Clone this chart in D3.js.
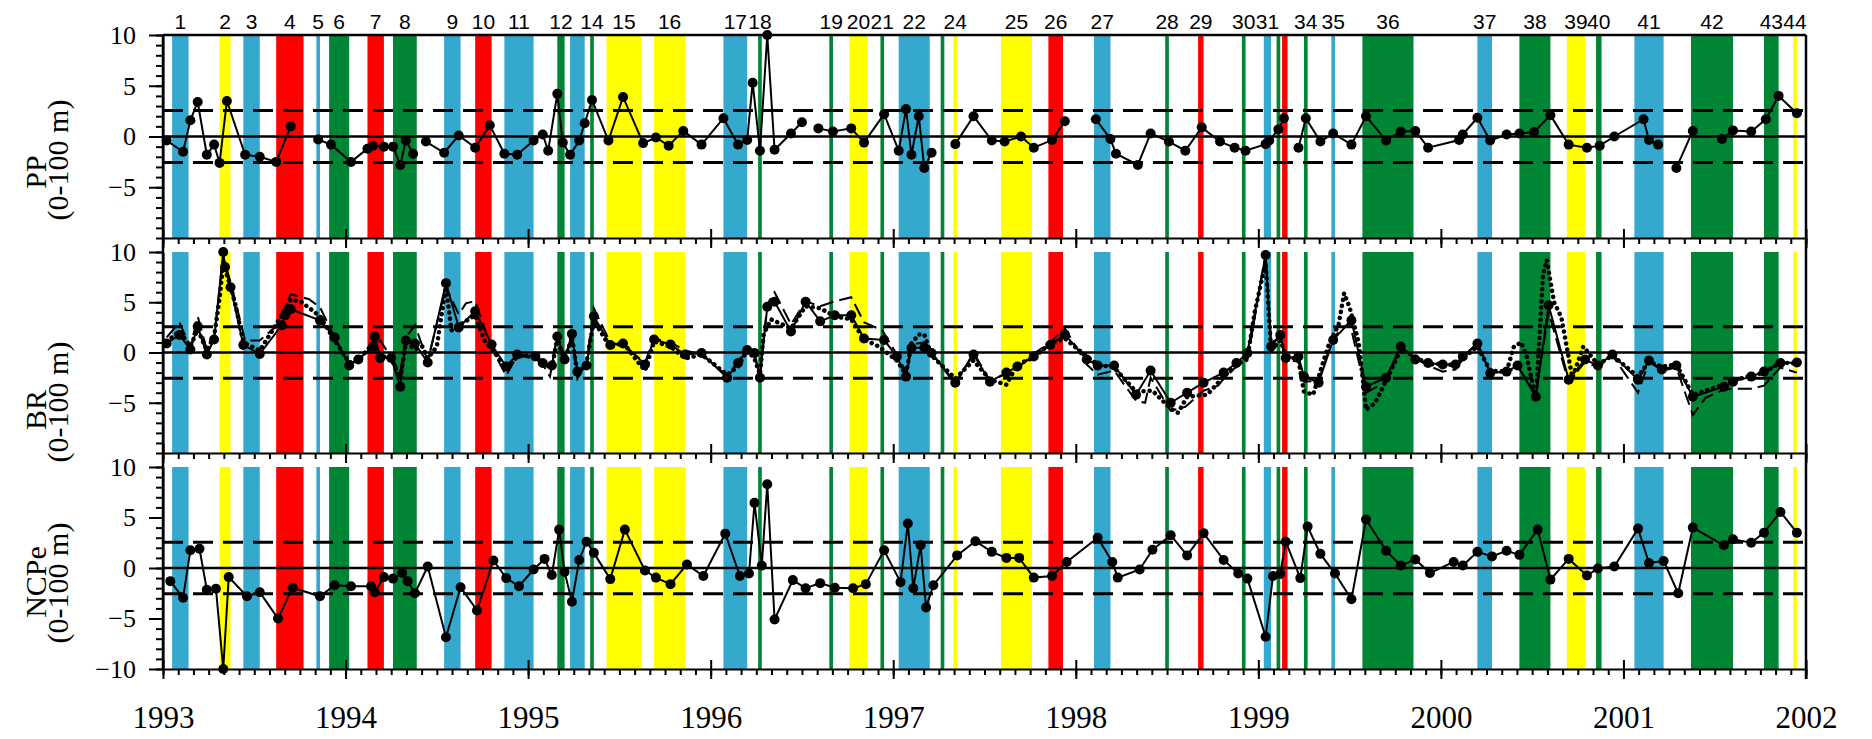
<!DOCTYPE html>
<html>
<head>
<meta charset="utf-8">
<script src="https://cdn.jsdelivr.net/npm/d3@7"></script>
<style>
  body { margin: 0; background: #fff; }
</style>
</head>
<body>
<svg id="chart" width="1872" height="739"></svg>
<script>
// event bands: [label, start, end, kind]
const bands = [
  ['1', 1993.05, 1993.14, 'blue'], ['2', 1993.31, 1993.37, 'yellow'], ['3', 1993.44, 1993.53, 'blue'],
  ['4', 1993.62, 1993.77, 'red'], ['5', 1993.84, 1993.86, 'blue'], ['6', 1993.91, 1994.02, 'green'],
  ['7', 1994.12, 1994.21, 'red'], ['8', 1994.26, 1994.39, 'green'], ['9', 1994.54, 1994.63, 'blue'],
  ['10', 1994.71, 1994.80, 'red'], ['11', 1994.87, 1995.03, 'blue'], ['12', 1995.16, 1995.20, 'green'],
  ['', 1995.23, 1995.31, 'blue'], ['14', 1995.34, 1995.36, 'green'], ['15', 1995.43, 1995.62, 'yellow'],
  ['16', 1995.69, 1995.86, 'yellow'], ['17', 1996.07, 1996.20, 'blue'], ['18', 1996.26, 1996.28, 'green'],
  ['19', 1996.65, 1996.67, 'green'], ['20', 1996.76, 1996.86, 'yellow'], ['21', 1996.93, 1996.95, 'green'],
  ['22', 1997.03, 1997.20, 'blue'], ['', 1997.26, 1997.28, 'green'], ['24', 1997.33, 1997.35, 'yellow'],
  ['25', 1997.59, 1997.76, 'yellow'], ['26', 1997.85, 1997.93, 'red'], ['27', 1998.10, 1998.19, 'blue'],
  ['28', 1998.49, 1998.51, 'green'], ['29', 1998.67, 1998.70, 'red'], ['30', 1998.91, 1998.93, 'green'],
  ['31', 1999.03, 1999.07, 'blue'], ['', 1999.10, 1999.12, 'green'], ['', 1999.13, 1999.16, 'red'],
  ['34', 1999.25, 1999.27, 'green'], ['35', 1999.40, 1999.42, 'blue'], ['36', 1999.57, 1999.85, 'green'],
  ['37', 2000.20, 2000.28, 'blue'], ['38', 2000.43, 2000.60, 'green'], ['39', 2000.69, 2000.79, 'yellow'],
  ['40', 2000.85, 2000.88, 'green'], ['41', 2001.06, 2001.22, 'blue'], ['42', 2001.37, 2001.60, 'green'],
  ['43', 2001.77, 2001.85, 'green'], ['44', 2001.93, 2001.95, 'yellow']
];
const bandColors = { blue: '#34a9cd', yellow: '#ffff00', red: '#ff0000', green: '#008535' };

const years = d3.range(1993, 2003);
const yTicks = [10, 5, 0, -5, -10];
const limit = 2.55;

// PP anomaly, [year, value]; null breaks the line
const ppSeries = [[1993.02,-0.4],[1993.11,-1.5],[1993.15,1.6],[1993.19,3.4],[1993.24,-1.8],[1993.28,-0.8],[1993.31,-2.6],[1993.35,3.5],[1993.45,-1.8],[1993.53,-2.0],[1993.62,-2.5],[1993.70,1.0],[1993.77,null],[1993.85,-0.3],[1993.92,-0.8],[1994.03,-2.5],[1994.12,-1.2],[1994.15,-0.9],[1994.21,-1.0],[1994.26,-1.0],[1994.30,-2.8],[1994.33,-0.4],[1994.37,-1.7],[1994.40,null],[1994.44,-0.5],[1994.54,-1.6],[1994.62,0.1],[1994.71,-1.1],[1994.79,1.1],[1994.87,-1.7],[1994.94,-1.8],[1995.03,-0.4],[1995.08,0.2],[1995.11,-1.4],[1995.16,4.2],[1995.19,-0.6],[1995.23,-1.8],[1995.28,-0.4],[1995.31,1.3],[1995.35,3.6],[1995.44,-0.4],[1995.52,3.9],[1995.63,-0.65],[1995.70,-0.1],[1995.77,-0.9],[1995.85,0.55],[1995.95,-0.8],[1996.07,1.8],[1996.15,-0.8],[1996.20,-0.35],[1996.23,5.3],[1996.27,-1.4],[1996.31,10.0],[1996.35,-1.3],[1996.44,0.3],[1996.50,1.4],[1996.55,null],[1996.59,0.8],[1996.67,0.5],[1996.77,0.8],[1996.84,-0.6],[1996.95,2.2],[1997.03,-1.4],[1997.07,2.7],[1997.10,-1.8],[1997.14,2.0],[1997.17,-3.1],[1997.21,-1.6],[1997.27,null],[1997.34,-0.75],[1997.44,2.0],[1997.54,-0.4],[1997.61,-0.5],[1997.70,0.0],[1997.77,-1.1],[1997.87,-0.35],[1997.94,1.5],[1998.02,null],[1998.11,1.7],[1998.19,-0.25],[1998.22,-1.7],[1998.34,-2.8],[1998.41,0.3],[1998.51,-0.5],[1998.60,-1.4],[1998.69,0.9],[1998.79,-0.5],[1998.87,-1.1],[1998.93,-1.4],[1999.04,-0.75],[1999.06,-0.4],[1999.11,0.7],[1999.14,1.8],[1999.18,null],[1999.22,-1.1],[1999.26,1.8],[1999.34,-0.5],[1999.41,0.3],[1999.51,-0.8],[1999.59,2.0],[1999.70,-0.4],[1999.78,0.5],[1999.86,0.55],[1999.93,-1.1],[2000.10,-0.35],[2000.12,0.2],[2000.20,1.85],[2000.27,-0.4],[2000.36,0.2],[2000.43,0.3],[2000.51,0.45],[2000.60,2.1],[2000.70,-0.8],[2000.80,-1.1],[2000.87,-0.9],[2000.95,0.0],[2001.11,1.7],[2001.14,-0.35],[2001.19,-0.8],[2001.24,null],[2001.29,-3.1],[2001.38,0.55],[2001.46,null],[2001.54,-0.25],[2001.60,0.6],[2001.70,0.5],[2001.78,1.7],[2001.85,4.0],[2001.95,2.3]];

// BR anomaly (solid line with dots)
const brSeries = [[1993.02,0.9],[1993.09,1.75],[1993.15,0.3],[1993.19,2.6],[1993.24,-0.2],[1993.28,1.3],[1993.33,10.0],[1993.34,8.5],[1993.37,6.5],[1993.44,0.75],[1993.53,-0.15],[1993.65,2.7],[1993.67,3.7],[1993.70,4.3],[1993.86,3.2],[1993.94,1.5],[1994.02,-1.3],[1994.07,-0.7],[1994.15,0.6],[1994.16,1.6],[1994.19,-0.55],[1994.25,-0.55],[1994.30,-3.4],[1994.33,1.2],[1994.38,0.9],[1994.45,-1.0],[1994.55,6.9],[1994.62,2.5],[1994.71,4.1],[1994.80,0.8],[1994.88,-1.4],[1994.94,-0.2],[1995.04,-0.4],[1995.08,-1.05],[1995.13,-1.3],[1995.16,1.6],[1995.20,-0.7],[1995.24,1.85],[1995.27,-1.9],[1995.32,-1.3],[1995.36,3.6],[1995.45,0.75],[1995.52,0.9],[1995.64,-1.2],[1995.69,1.3],[1995.78,0.8],[1995.86,-0.2],[1995.95,-0.05],[1996.09,-2.5],[1996.15,-1.05],[1996.20,0.25],[1996.24,-0.05],[1996.27,-2.5],[1996.31,4.55],[1996.35,5.05],[1996.44,2.1],[1996.52,5.05],[1996.60,3.1],[1996.68,3.7],[1996.77,3.7],[1996.84,1.4],[1996.95,1.25],[1997.02,-0.4],[1997.07,-2.4],[1997.10,0.45],[1997.17,0.5],[1997.21,-0.05],[1997.34,-3.0],[1997.44,-0.2],[1997.53,-2.9],[1997.62,-2.0],[1997.68,-1.4],[1997.77,-0.4],[1997.86,0.75],[1997.94,1.8],[1998.06,-0.7],[1998.12,-1.3],[1998.21,-1.3],[1998.33,-4.2],[1998.41,-1.8],[1998.52,-5.0],[1998.61,-4.0],[1998.70,-3.0],[1998.81,-2.0],[1998.88,-1.05],[1998.94,-0.05],[1999.04,9.7],[1999.07,0.6],[1999.12,1.75],[1999.15,-0.55],[1999.22,-0.4],[1999.25,-2.4],[1999.33,-3.0],[1999.41,1.25],[1999.51,3.2],[1999.59,-3.4],[1999.70,-2.5],[1999.78,0.6],[1999.86,-0.7],[1999.93,-1.05],[2000.01,-1.2],[2000.08,-1.2],[2000.12,-0.4],[2000.20,0.9],[2000.27,-2.05],[2000.36,-1.9],[2000.42,-1.3],[2000.52,-4.4],[2000.59,4.7],[2000.70,-2.7],[2000.79,-0.7],[2000.86,-1.3],[2000.94,-0.2],[2001.08,-2.7],[2001.14,-0.8],[2001.21,-1.7],[2001.29,-1.3],[2001.38,-4.4],[2001.55,-3.4],[2001.60,-2.9],[2001.70,-2.4],[2001.77,-1.9],[2001.86,-1.05],[2001.95,-1.0]];

// BR, second estimate (dashed line)
const brDashed = [[1993.02,1.5],[1993.09,3.0],[1993.15,0.5],[1993.19,3.6],[1993.24,0.3],[1993.28,1.5],[1993.33,9.5],[1993.37,7.0],[1993.45,1.2],[1993.53,1.2],[1993.62,2.6],[1993.70,5.8],[1993.80,5.3],[1993.86,4.5],[1993.94,1.5],[1994.02,-1.2],[1994.07,-0.6],[1994.15,0.4],[1994.19,1.2],[1994.25,-0.5],[1994.30,-2.0],[1994.33,1.5],[1994.38,2.7],[1994.45,-0.8],[1994.55,6.5],[1994.62,3.8],[1994.66,4.9],[1994.71,5.1],[1994.80,0.4],[1994.88,-2.3],[1994.94,-0.3],[1995.04,-0.6],[1995.08,-1.2],[1995.12,-2.4],[1995.16,1.9],[1995.20,-0.5],[1995.24,1.2],[1995.27,-2.6],[1995.32,-1.0],[1995.36,4.4],[1995.45,1.0],[1995.52,0.7],[1995.64,-1.0],[1995.69,1.4],[1995.78,1.0],[1995.86,0.2],[1995.95,-0.2],[1996.09,-2.3],[1996.15,-0.9],[1996.20,0.4],[1996.24,-0.3],[1996.27,-2.3],[1996.31,4.8],[1996.35,6.0],[1996.44,2.8],[1996.52,5.1],[1996.60,4.6],[1996.68,5.1],[1996.77,5.5],[1996.84,3.0],[1996.94,2.2],[1997.02,-0.2],[1997.07,-1.9],[1997.10,0.8],[1997.17,1.0],[1997.21,0.0],[1997.34,-3.2],[1997.44,0.0],[1997.53,-2.8],[1997.61,-2.2],[1997.68,-1.6],[1997.77,-0.1],[1997.86,1.0],[1997.94,2.4],[1998.06,-1.2],[1998.12,-2.2],[1998.21,-1.8],[1998.33,-4.8],[1998.38,-5.0],[1998.41,-2.5],[1998.52,-5.8],[1998.60,-5.4],[1998.70,-3.8],[1998.78,-3.3],[1998.81,-2.6],[1998.88,-1.4],[1998.94,-0.8],[1999.04,9.8],[1999.07,1.0],[1999.12,1.5],[1999.15,-0.8],[1999.22,-0.9],[1999.25,-2.9],[1999.33,-2.8],[1999.41,1.5],[1999.50,3.0],[1999.59,-4.0],[1999.70,-2.9],[1999.78,0.5],[1999.86,-0.6],[1999.93,-1.3],[2000.01,-1.9],[2000.08,-1.7],[2000.12,-0.6],[2000.20,1.0],[2000.27,-2.0],[2000.36,-2.0],[2000.42,-1.4],[2000.52,-4.0],[2000.59,4.0],[2000.70,-3.0],[2000.79,-0.9],[2000.86,-1.5],[2000.94,-0.3],[2001.08,-4.0],[2001.14,-0.9],[2001.21,-1.8],[2001.29,-1.5],[2001.38,-6.2],[2001.45,-4.5],[2001.55,-3.7],[2001.60,-3.6],[2001.70,-3.6],[2001.77,-3.3],[2001.86,-1.5],[2001.95,-2.0]];

// BR, third estimate (dotted line)
const brDotted = [[1993.02,1.1],[1993.09,2.1],[1993.15,0.6],[1993.19,2.3],[1993.24,0.2],[1993.28,1.6],[1993.31,5.4],[1993.33,8.8],[1993.37,6.6],[1993.40,4.5],[1993.44,1.0],[1993.53,0.2],[1993.62,2.8],[1993.70,5.3],[1993.76,5.0],[1993.86,3.6],[1993.94,1.2],[1994.02,-1.0],[1994.07,-0.8],[1994.15,0.9],[1994.19,-0.3],[1994.25,-0.6],[1994.30,-2.6],[1994.33,1.0],[1994.38,0.3],[1994.42,0.6],[1994.45,-0.6],[1994.50,0.6],[1994.55,6.6],[1994.58,2.2],[1994.62,2.7],[1994.71,3.7],[1994.76,1.2],[1994.80,0.4],[1994.88,-1.6],[1994.94,-0.4],[1995.04,-0.3],[1995.08,-1.0],[1995.13,-1.6],[1995.16,1.5],[1995.20,-0.9],[1995.24,1.6],[1995.27,-2.2],[1995.32,-1.0],[1995.36,3.2],[1995.45,0.5],[1995.52,1.0],[1995.60,-0.9],[1995.64,-1.8],[1995.69,1.1],[1995.78,0.6],[1995.86,-0.6],[1995.95,-0.2],[1996.09,-2.2],[1996.15,-1.4],[1996.20,0.2],[1996.24,-0.6],[1996.27,-2.2],[1996.29,1.8],[1996.33,3.3],[1996.44,2.4],[1996.52,4.6],[1996.60,4.4],[1996.68,3.6],[1996.77,3.3],[1996.84,1.3],[1996.92,0.6],[1997.02,-0.8],[1997.07,-2.2],[1997.10,0.9],[1997.14,1.8],[1997.17,1.8],[1997.21,-0.3],[1997.34,-2.6],[1997.44,-0.8],[1997.53,-2.7],[1997.62,-3.2],[1997.68,-1.2],[1997.77,-0.5],[1997.86,0.9],[1997.94,1.4],[1998.06,-0.4],[1998.12,-1.2],[1998.21,-1.5],[1998.33,-3.9],[1998.42,-3.8],[1998.52,-5.6],[1998.56,-6.0],[1998.61,-4.4],[1998.72,-4.2],[1998.81,-2.4],[1998.88,-1.3],[1998.94,-0.5],[1998.98,4.0],[1999.04,9.0],[1999.07,0.2],[1999.12,1.2],[1999.15,-0.2],[1999.22,-0.8],[1999.25,-3.9],[1999.30,-4.2],[1999.38,0.5],[1999.44,2.8],[1999.47,5.9],[1999.50,4.5],[1999.55,1.0],[1999.59,-5.7],[1999.64,-5.0],[1999.70,-2.8],[1999.78,0.3],[1999.86,-0.4],[1999.93,-1.2],[2000.01,-1.1],[2000.08,-1.3],[2000.12,-0.6],[2000.20,0.6],[2000.27,-1.8],[2000.36,-1.9],[2000.40,0.6],[2000.44,1.0],[2000.47,-0.4],[2000.52,-4.6],[2000.56,7.8],[2000.58,9.2],[2000.62,5.0],[2000.66,3.5],[2000.72,-2.5],[2000.78,0.6],[2000.86,-1.2],[2000.94,-0.3],[2001.08,-2.4],[2001.14,-0.9],[2001.21,-1.4],[2001.29,-1.2],[2001.38,-4.2],[2001.55,-3.2],[2001.60,-2.8],[2001.70,-2.3],[2001.77,-2.0],[2001.86,-1.0],[2001.95,-1.1]];

// NCPe anomaly
const ncpeSeries = [[1993.04,-1.3],[1993.11,-2.95],[1993.15,1.75],[1993.20,1.9],[1993.24,-2.15],[1993.29,-2.05],[1993.33,-10],[1993.36,-0.9],[1993.46,-2.8],[1993.53,-2.4],[1993.63,-5.0],[1993.71,-1.95],[1993.86,-2.8],[1993.94,-1.7],[1994.03,-1.8],[1994.14,-1.8],[1994.16,-2.4],[1994.21,-0.9],[1994.26,-1.05],[1994.31,-0.5],[1994.34,-1.3],[1994.38,-2.5],[1994.45,0.15],[1994.55,-6.85],[1994.63,-1.9],[1994.72,-4.2],[1994.81,0.75],[1994.88,-1.0],[1994.95,-1.8],[1995.03,-0.15],[1995.09,0.9],[1995.13,-0.7],[1995.17,3.8],[1995.20,-0.4],[1995.24,-3.35],[1995.28,0.8],[1995.32,2.6],[1995.36,1.5],[1995.45,-1.1],[1995.53,3.8],[1995.64,-0.25],[1995.70,-0.95],[1995.78,-1.6],[1995.87,0.35],[1995.96,-0.8],[1996.08,3.4],[1996.16,-0.8],[1996.21,-0.55],[1996.24,6.45],[1996.28,0.25],[1996.31,8.3],[1996.35,-5.1],[1996.45,-1.2],[1996.52,-2.0],[1996.60,-1.5],[1996.68,-1.95],[1996.78,-2.0],[1996.85,-1.6],[1996.95,1.75],[1997.04,-1.4],[1997.08,4.4],[1997.11,-2.0],[1997.15,2.25],[1997.18,-3.9],[1997.22,-1.7],[1997.35,1.25],[1997.45,2.65],[1997.54,1.6],[1997.62,1.0],[1997.69,1.0],[1997.77,-0.95],[1997.87,-0.8],[1997.95,0.6],[1998.12,3.0],[1998.20,0.6],[1998.23,-0.95],[1998.35,-0.15],[1998.42,1.8],[1998.52,3.25],[1998.61,1.25],[1998.70,3.45],[1998.81,0.8],[1998.89,-0.55],[1998.94,-1.05],[1999.04,-6.8],[1999.08,-0.8],[1999.12,-0.6],[1999.15,2.6],[1999.23,-1.0],[1999.27,4.1],[1999.34,1.4],[1999.42,-0.55],[1999.51,-3.1],[1999.59,4.8],[1999.70,1.7],[1999.78,0.25],[1999.86,0.85],[1999.94,-0.5],[2000.07,0.6],[2000.12,0.25],[2000.20,1.6],[2000.28,1.15],[2000.36,1.7],[2000.43,1.3],[2000.53,3.8],[2000.60,-1.15],[2000.70,0.9],[2000.80,-0.75],[2000.86,-0.05],[2000.95,0.15],[2001.08,3.9],[2001.14,0.5],[2001.22,0.7],[2001.30,-2.5],[2001.38,4.0],[2001.55,2.25],[2001.60,2.85],[2001.70,2.5],[2001.77,3.5],[2001.86,5.55],[2001.95,3.5]];

const svg = d3.select('#chart');
const serif = '"Liberation Serif", "Times New Roman", serif';
const sans = '"Liberation Sans", Arial, sans-serif';

const x = d3.scaleLinear().domain([1993, 2002]).range([163, 1806]);
const months = d3.range(0, 109).map(i => 1993 + i / 12);

const panels = [
  { title: 'PP', top: 35, bottom: 238, nameY: 172, unitY: 160,
    series: [{ data: ppSeries, kind: 'main' }] },
  { title: 'BR', top: 252, bottom: 453, nameY: 410, unitY: 402,
    series: [{ data: brDashed, kind: 'dash' }, { data: brDotted, kind: 'dot' }, { data: brSeries, kind: 'main' }] },
  { title: 'NCPe', top: 467, bottom: 669, nameY: 582, unitY: 583,
    series: [{ data: ncpeSeries, kind: 'main' }] }
];

panels.forEach((p, pi) => {
  const y = d3.scaleLinear().domain([-10, 10]).range([p.bottom, p.top]);
  const g = svg.append('g');

  // coloured event bands
  g.selectAll('rect.band').data(bands).join('rect')
    .attr('class', 'band')
    .attr('x', d => x(d[1]))
    .attr('width', d => Math.max(3, x(d[2]) - x(d[1])))
    .attr('y', p.top)
    .attr('height', p.bottom - p.top)
    .attr('fill', d => bandColors[d[3]]);

  // zero line and +/- limits
  g.append('line')
    .attr('x1', x(1993)).attr('x2', x(2002))
    .attr('y1', y(0)).attr('y2', y(0))
    .attr('stroke', '#000').attr('stroke-width', 2.5);
  [limit, -limit].forEach(v => {
    g.append('line')
      .attr('x1', x(1993)).attr('x2', x(2002))
      .attr('y1', y(v)).attr('y2', y(v))
      .attr('stroke', '#000').attr('stroke-width', 3)
      .attr('stroke-dasharray', '20,10');
  });

  const line = d3.line()
    .defined(d => d[1] !== null)
    .x(d => x(d[0]))
    .y(d => y(d[1]));

  p.series.forEach(s => {
    const path = g.append('path')
      .attr('d', line(s.data))
      .attr('fill', 'none')
      .attr('stroke', '#000');
    if (s.kind === 'main') {
      path.attr('stroke-width', 2);
      g.selectAll(null).data(s.data.filter(d => d[1] !== null)).join('circle')
        .attr('cx', d => x(d[0]))
        .attr('cy', d => y(d[1]))
        .attr('r', 5)
        .attr('fill', '#000');
    } else if (s.kind === 'dash') {
      path.attr('stroke-width', 2).attr('stroke-dasharray', '14,6');
    } else {
      path.attr('stroke-width', 4.5).attr('stroke-dasharray', '0.1,6').attr('stroke-linecap', 'round');
    }
  });

  // left axis: minor ticks every unit, labelled majors every 5
  const labelled = pi === 2 ? yTicks : yTicks.filter(v => v > -10);
  const left = g.append('g').attr('transform', `translate(${x(1993)},0)`);
  left.call(d3.axisLeft(y).tickValues(d3.range(-10, 11)).tickSize(7).tickSizeOuter(0).tickFormat(''));
  left.append('g').call(d3.axisLeft(y).tickValues(labelled).tickSize(14).tickSizeOuter(0).tickPadding(13).tickFormat(d3.format('d')))
    .call(a => a.select('.domain').remove());
  left.selectAll('line, path').attr('stroke', '#000').attr('stroke-width', 2);
  left.selectAll('text').attr('font-family', serif).attr('font-size', 26).attr('fill', '#000');

  // bottom axis: monthly minor ticks, yearly major ticks crossing the line
  const bottom = g.append('g').attr('transform', `translate(0,${p.bottom})`);
  bottom.call(d3.axisBottom(x).tickValues(months).tickSize(6).tickSizeOuter(0).tickFormat(''));
  const major = bottom.append('g')
    .call(d3.axisBottom(x).tickValues(years).tickSize(10).tickSizeOuter(0).tickPadding(27)
      .tickFormat(pi === 2 ? d3.format('d') : ''));
  major.select('.domain').remove();
  major.selectAll('.tick line').attr('y1', -9);
  bottom.selectAll('line, path').attr('stroke', '#000').attr('stroke-width', 2);
  bottom.selectAll('text').attr('font-family', serif).attr('font-size', 31).attr('fill', '#000');

  // y title, two rotated lines
  const title = g.append('g').attr('font-family', serif).attr('font-size', 30).attr('fill', '#000')
    .attr('text-anchor', 'middle');
  title.append('text').attr('transform', `translate(46,${p.nameY}) rotate(-90)`).text(p.title);
  title.append('text').attr('transform', `translate(68,${p.unitY}) rotate(-90)`).text('(0-100 m)');
});

// frame: top border, left and right edges
svg.append('line').attr('x1', x(1993)).attr('x2', x(2002)).attr('y1', 35).attr('y2', 35)
  .attr('stroke', '#000').attr('stroke-width', 2.5);
svg.append('line').attr('x1', x(2002)).attr('x2', x(2002)).attr('y1', 35).attr('y2', 679)
  .attr('stroke', '#000').attr('stroke-width', 2.5);
svg.append('line').attr('x1', x(1993)).attr('x2', x(1993)).attr('y1', 35).attr('y2', 669)
  .attr('stroke', '#000').attr('stroke-width', 2.5);

// event numbers above the frame
svg.append('g').selectAll('text').data(bands.filter(d => d[0] !== '')).join('text')
  .attr('x', d => x((d[1] + d[2]) / 2))
  .attr('y', 29)
  .attr('text-anchor', 'middle')
  .attr('font-family', sans)
  .attr('font-size', 21)
  .attr('fill', '#000')
  .text(d => d[0]);
</script>
</body>
</html>
